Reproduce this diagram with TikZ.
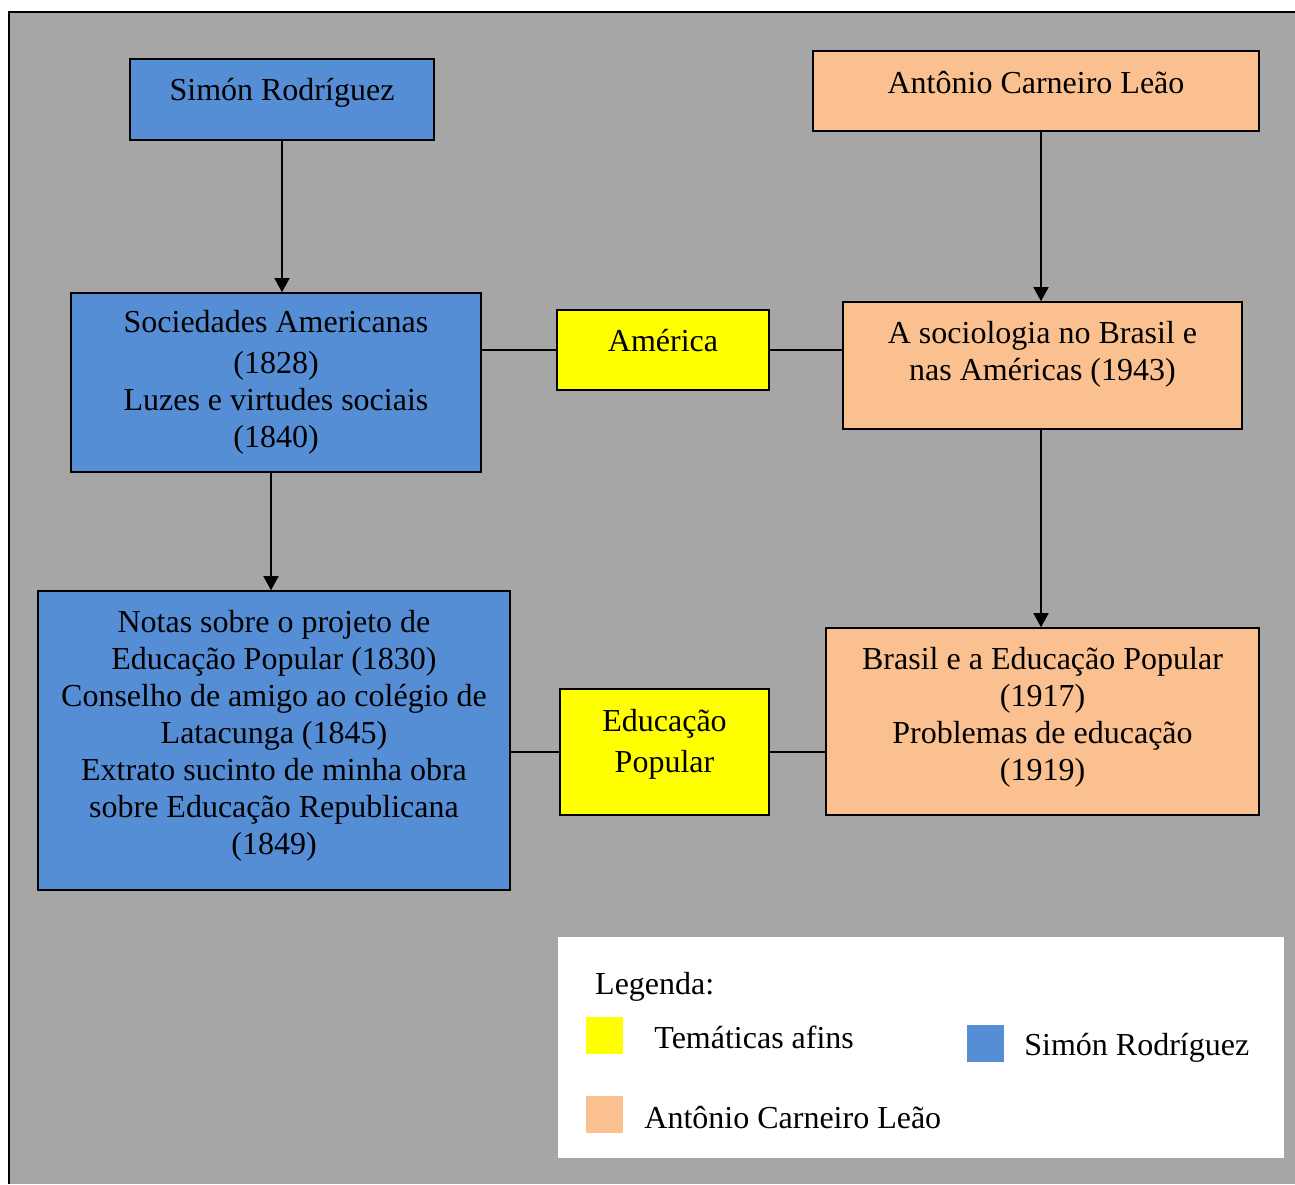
\documentclass[tikz,border=0pt]{standalone}
\usepackage{fontspec}
\setmainfont{Liberation Serif}
\usetikzlibrary{arrows.meta,positioning}
\definecolor{fundo}{RGB}{166,166,166}
\definecolor{azulsr}{RGB}{85,142,213}
\definecolor{laranja}{RGB}{250,192,144}
\definecolor{amarelo}{RGB}{255,255,0}
\tikzset{
  caixa/.style={draw, line width=1.6pt, inner sep=0pt, align=center,
    font=\fontsize{32}{37}\selectfont},
  subir/.style={execute at end node={\rule[-#1]{0pt}{0pt}}},
  seta/.style={line width=1.6pt, -{Triangle[length=14pt,width=15pt]}},
  liga/.style={line width=1.6pt},
  chave/.style={minimum width=37pt, minimum height=37pt, inner sep=0pt},
  rotulo/.style={inner sep=0pt, font=\fontsize{32}{37}\selectfont}
}
\begin{document}
\begin{tikzpicture}[x=1pt,y=-1pt]
\useasboundingbox (0,0) rectangle (1295,1184);
% fundo e moldura
\fill[fundo] (9,12) rectangle (1295,1184);
\draw[line width=2.5pt] (9,1184) -- (9,12) -- (1295,12);

% Simon Rodriguez
\node[caixa, subir=21pt, fill=azulsr, minimum width=304pt, minimum height=81pt] (sr) at (282,99.5) {Simón Rodríguez};
\node[caixa, fill=azulsr, minimum width=410pt, minimum height=179pt] (soc) at (276,382.5)
  {Sociedades Americanas\\[4pt](1828)\\Luzes e virtudes sociais\\(1840)};
\node[caixa, subir=17pt, fill=azulsr, minimum width=472pt, minimum height=299pt] (notas) at (274,740.5)
  {Notas sobre o projeto de\\Educação Popular (1830)\\Conselho de amigo ao colégio de\\Latacunga (1845)\\Extrato sucinto de minha obra\\sobre Educação Republicana\\(1849)};

% Antonio Carneiro Leao
\node[caixa, subir=18pt, fill=laranja, minimum width=446pt, minimum height=80pt] (acl) at (1036,91) {Antônio Carneiro Leão};
\node[caixa, subir=30pt, fill=laranja, minimum width=399pt, minimum height=127pt] (socbr) at (1042.5,365.5)
  {A sociologia no Brasil e\\nas Américas (1943)};
\node[caixa, subir=15pt, fill=laranja, minimum width=433pt, minimum height=187pt] (bra) at (1042.5,721.5)
  {Brasil e a Educação Popular\\(1917)\\Problemas de educação\\(1919)};

% tematicas afins
\node[caixa, subir=20pt, fill=amarelo, minimum width=212pt, minimum height=80pt] (ame) at (663,350) {América};
\node[caixa, subir=23pt, fill=amarelo, minimum width=209pt, minimum height=126pt] (edp) at (664.5,752)
  {Educação\\[4pt]Popular};

% setas
\draw[seta] (sr.south) -- (soc.north -| sr.south);
\draw[seta] ([xshift=-5pt]soc.south) -- ([xshift=-3pt]notas.north);
\draw[seta] ([xshift=5pt]acl.south) -- ([xshift=-1.5pt]socbr.north);
\draw[seta] ([xshift=-1.5pt]socbr.south) -- ([xshift=-1.5pt]bra.north);

% ligacoes
\draw[liga] (soc.east |- ame.west) -- (ame.west);
\draw[liga] (ame.east) -- (ame.east -| socbr.west);
\draw[liga] (notas.east |- edp.west) -- (edp.west);
\draw[liga] (edp.east) -- (edp.east -| bra.west);

% legenda
\fill[white] (558,937) rectangle (1284,1158);
\node[rotulo, anchor=west] (leg) at (595,987) {Legenda:};
\node[chave, fill=amarelo] (kam) at (604.5,1035.5) {};
\node[rotulo, right=31pt of kam, yshift=-2pt] (tam) {Temáticas afins};
\node[chave, fill=azulsr] (kaz) at (985.5,1043.5) {};
\node[rotulo, right=20pt of kaz, yshift=-4pt] (taz) {Simón Rodríguez};
\node[chave, fill=laranja] (kla) at (604.5,1114.5) {};
\node[rotulo, right=21pt of kla, yshift=-3pt] (tla) {Antônio Carneiro Leão};
\end{tikzpicture}
\end{document}
